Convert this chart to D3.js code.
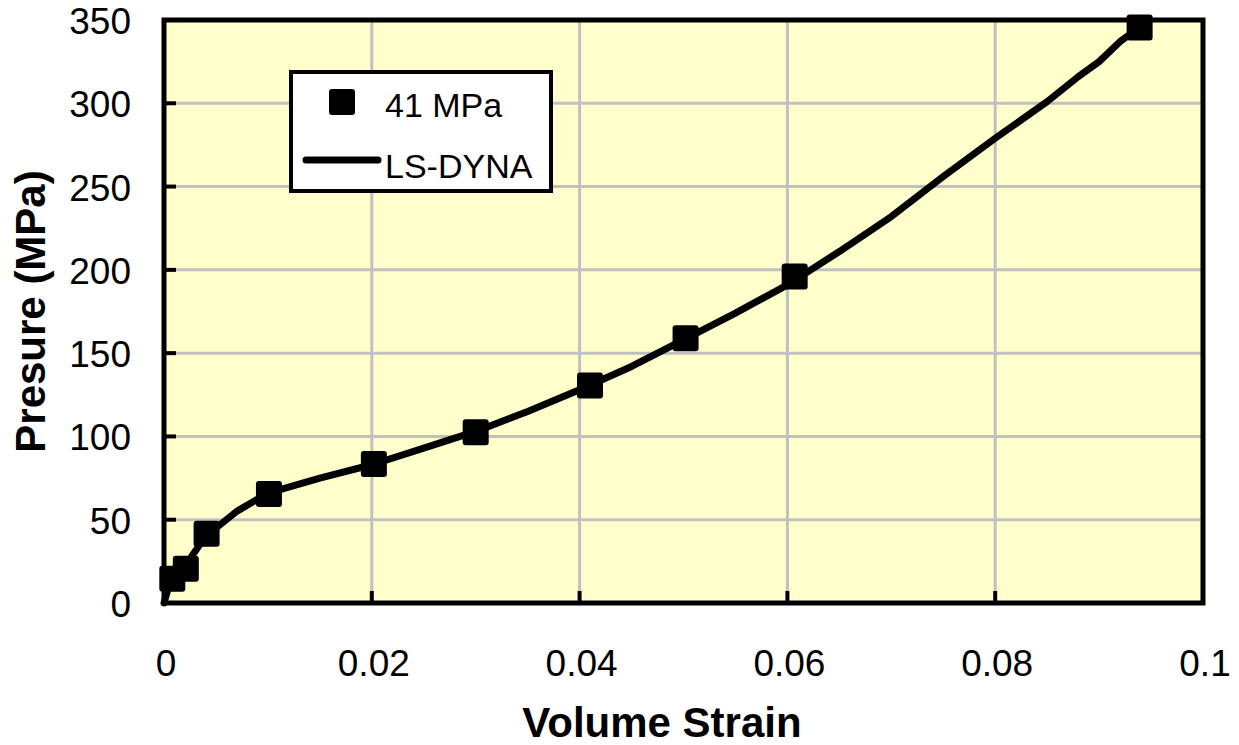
<!doctype html>
<html>
<head>
<meta charset="utf-8">
<title>Pressure vs Volume Strain</title>
<script src="https://cdn.jsdelivr.net/npm/d3@7"></script>
<style>
  body { margin: 0; background: #fff; }
  text { font-family: Arial, "Liberation Sans", sans-serif; fill: #000; }
</style>
</head>
<body>
<div id="chart"></div>
<script>
  // test data (41 MPa)
  const testStrain = [0.0008, 0.0021, 0.0041, 0.0101, 0.0202, 0.0300, 0.0410, 0.0502, 0.0607, 0.0939];
  const testPress = [14.5, 20.5, 41.5, 65.5, 83.5, 102.5, 130.5, 159, 196, 345.5];

  // LS-DYNA curve
  const dynaStrain = [0, 0.0005, 0.002, 0.004, 0.007, 0.010, 0.015, 0.020, 0.025, 0.030, 0.035, 0.040,
    0.045, 0.050, 0.055, 0.060, 0.065, 0.070, 0.075, 0.080, 0.085, 0.088, 0.090, 0.092, 0.0939];
  const dynaPress = [0, 11, 22, 40, 55, 66, 75, 83, 93, 103, 115, 128,
    142, 158, 174, 191, 211, 232, 256, 279, 301, 316, 325, 337, 345.5];

  const xTicks = [0, 0.02, 0.04, 0.06, 0.08, 0.1];
  const yTicks = [0, 50, 100, 150, 200, 250, 300, 350];

  const width = 1239, height = 745;
  const margin = {top: 20, right: 36, bottom: 142, left: 164};

  const svg = d3.select('#chart').append('svg')
    .attr('width', width)
    .attr('height', height);

  const x = d3.scaleLinear().domain([0, 0.1]).range([margin.left, width - margin.right]);
  const y = d3.scaleLinear().domain([0, 350]).range([height - margin.bottom, margin.top]);

  // plot background
  svg.append('rect')
    .attr('x', x(0)).attr('y', y(350))
    .attr('width', x(0.1) - x(0)).attr('height', y(0) - y(350))
    .attr('fill', '#ffffcc');

  // grid
  svg.append('g').selectAll('line')
    .data(xTicks.slice(1, -1))
    .join('line')
    .attr('x1', d => x(d)).attr('x2', d => x(d))
    .attr('y1', y(350)).attr('y2', y(0))
    .attr('stroke', '#c0c0c0').attr('stroke-width', 3);

  svg.append('g').selectAll('line')
    .data(yTicks.slice(1, -1))
    .join('line')
    .attr('x1', x(0)).attr('x2', x(0.1))
    .attr('y1', d => y(d)).attr('y2', d => y(d))
    .attr('stroke', '#c0c0c0').attr('stroke-width', 3);

  // inside ticks
  svg.append('g').selectAll('line')
    .data(yTicks)
    .join('line')
    .attr('x1', x(0)).attr('x2', x(0) + 12)
    .attr('y1', d => y(d)).attr('y2', d => y(d))
    .attr('stroke', '#000').attr('stroke-width', 4);

  svg.append('g').selectAll('line')
    .data(xTicks)
    .join('line')
    .attr('x1', d => x(d)).attr('x2', d => x(d))
    .attr('y1', y(0)).attr('y2', y(0) - 12)
    .attr('stroke', '#000').attr('stroke-width', 4);

  // frame
  svg.append('rect')
    .attr('x', x(0)).attr('y', y(350))
    .attr('width', x(0.1) - x(0)).attr('height', y(0) - y(350))
    .attr('fill', 'none').attr('stroke', '#000').attr('stroke-width', 5);

  // tick labels
  svg.append('g').selectAll('text')
    .data(yTicks)
    .join('text')
    .attr('x', 131)
    .attr('y', d => y(d) + 14)
    .attr('text-anchor', 'end')
    .attr('font-size', 37)
    .text(d => d);

  svg.append('g').selectAll('text')
    .data(xTicks)
    .join('text')
    .attr('x', d => x(d) + 2)
    .attr('y', 676)
    .attr('text-anchor', 'middle')
    .attr('font-size', 37)
    .text(d => d);

  // axis titles
  svg.append('text')
    .attr('x', 662)
    .attr('y', 737)
    .attr('text-anchor', 'middle')
    .attr('font-size', 42)
    .attr('font-weight', 'bold')
    .text('Volume Strain');

  svg.append('text')
    .attr('transform', `translate(45,${(y(0) + y(350)) / 2}) rotate(-90)`)
    .attr('text-anchor', 'middle')
    .attr('font-size', 42)
    .attr('font-weight', 'bold')
    .text('Presure (MPa)');

  // LS-DYNA line
  const line = d3.line()
    .x(d => x(d[0]))
    .y(d => y(d[1]));

  svg.append('path')
    .datum(d3.zip(dynaStrain, dynaPress))
    .attr('d', line)
    .attr('fill', 'none')
    .attr('stroke', '#000')
    .attr('stroke-width', 7)
    .attr('stroke-linejoin', 'round')
    .attr('stroke-linecap', 'round');

  // test markers
  const ms = 26;
  svg.append('g').selectAll('rect')
    .data(d3.zip(testStrain, testPress))
    .join('rect')
    .attr('x', d => x(d[0]) - ms / 2)
    .attr('y', d => y(d[1]) - ms / 2)
    .attr('width', ms).attr('height', ms)
    .attr('rx', 3)
    .attr('fill', '#000');

  // legend
  const lg = svg.append('g');
  lg.append('rect')
    .attr('x', 291).attr('y', 72)
    .attr('width', 260).attr('height', 119)
    .attr('fill', '#fff').attr('stroke', '#000').attr('stroke-width', 4);
  lg.append('rect')
    .attr('x', 342 - ms / 2).attr('y', 102 - ms / 2)
    .attr('width', ms).attr('height', ms).attr('rx', 3)
    .attr('fill', '#000');
  lg.append('text')
    .attr('x', 385).attr('y', 117)
    .attr('font-size', 34)
    .text('41 MPa');
  lg.append('line')
    .attr('x1', 306).attr('x2', 378)
    .attr('y1', 160).attr('y2', 160)
    .attr('stroke', '#000').attr('stroke-width', 7)
    .attr('stroke-linecap', 'round');
  lg.append('text')
    .attr('x', 385).attr('y', 178)
    .attr('font-size', 34)
    .text('LS-DYNA');
</script>
</body>
</html>
